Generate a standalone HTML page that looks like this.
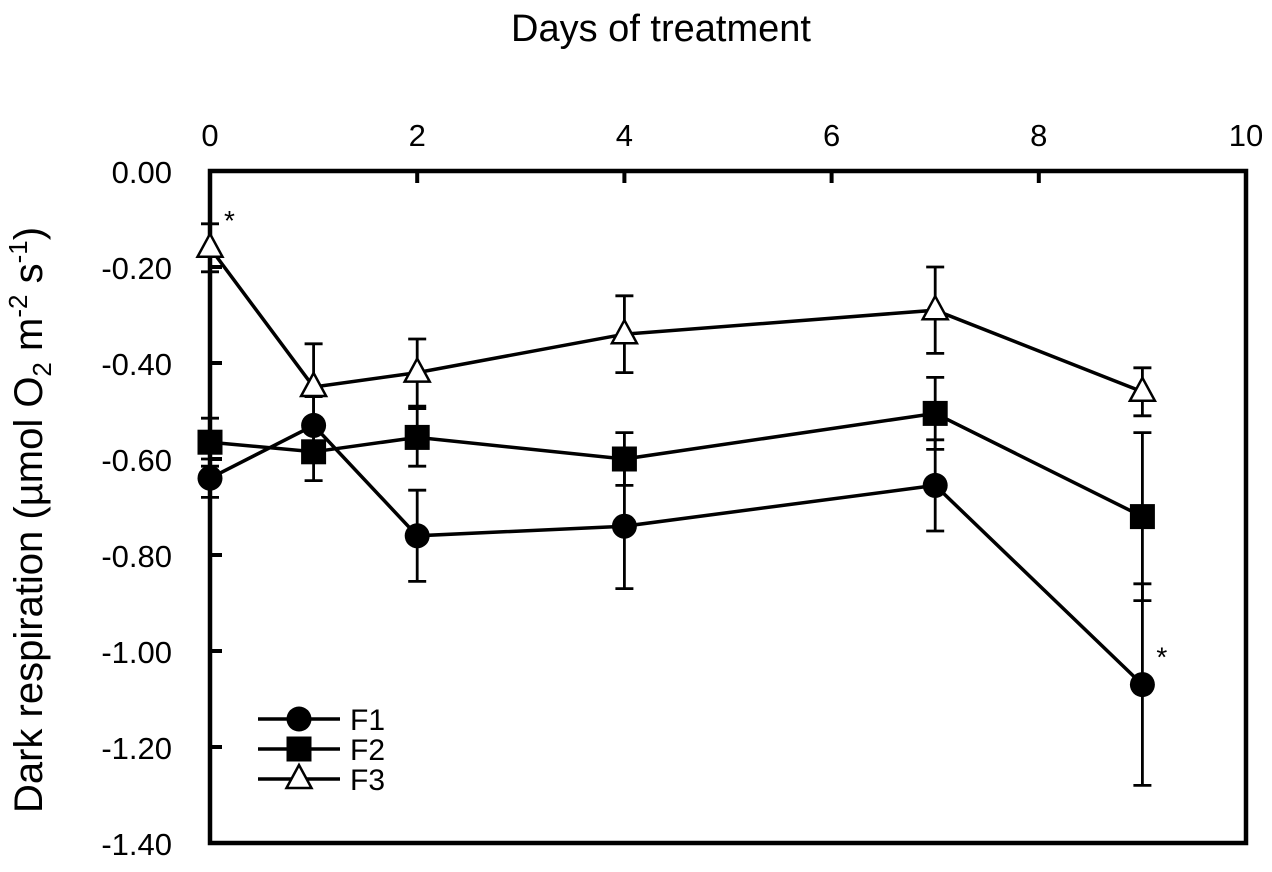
<!DOCTYPE html>
<html><head><meta charset="utf-8"><style>
body{margin:0;background:#fff}
svg{display:block;font-family:"Liberation Sans",Arial,sans-serif}
</style></head><body>
<svg id="chart" width="1272" height="872" viewBox="0 0 1272 872">
<text x="661" y="41" font-size="38" text-anchor="middle">Days of treatment</text>
<text transform="translate(42,520) rotate(-90)" font-size="40" text-anchor="middle">Dark respiration (µmol O<tspan font-size="26" dy="9">2</tspan><tspan dy="-9"> m</tspan><tspan font-size="26" dy="-15">-2</tspan><tspan dy="15"> s</tspan><tspan font-size="26" dy="-15">-1</tspan><tspan dy="15">)</tspan></text>
<g id="axes"></g><g id="series"></g><g id="legend"></g>
</svg>
<script>
const days=[0,1,2,4,7,9];
const f1=[-0.64,-0.53,-0.76,-0.74,-0.655,-1.07];
const f1err=[0.04,0.06,0.095,0.13,0.095,0.21];
const f2=[-0.565,-0.585,-0.555,-0.60,-0.505,-0.72];
const f2err=[0.05,0.06,0.06,0.055,0.075,0.175];
const f3=[-0.16,-0.45,-0.42,-0.34,-0.29,-0.46];
const f3err=[0.05,0.09,0.07,0.08,0.09,0.05];
const xTicks=[0,2,4,6,8,10];
const yTicks=[0,-0.2,-0.4,-0.6,-0.8,-1.0,-1.2,-1.4];
const L=210,R=1246,T=171,B=843;
const sx=d=>L+(d-0)/(10-0)*(R-L);
const sy=v=>T+(0-v)/(1.4)*(B-T);
const NS='http://www.w3.org/2000/svg';
function mk(tag,attrs,parent){const e=document.createElementNS(NS,tag);for(const k in attrs)e.setAttribute(k,attrs[k]);parent.appendChild(e);return e;}
const ax=document.getElementById('axes');
let fr=mk('rect',{x:L,y:T,width:R-L,height:B-T,fill:'none',stroke:'#000','stroke-width':4.5},ax);


xTicks.forEach(t=>{
  let l=mk('line',{x1:sx(t),x2:sx(t),y1:T,y2:T+12,stroke:'#000','stroke-width':4},ax);
  
  
  let tx=mk('text',{x:sx(t),y:T-25,'font-size':31,'text-anchor':'middle'},ax);
  tx.textContent=t;
  
  
});
yTicks.forEach(t=>{
  let l=mk('line',{x1:L,x2:L+12,y1:sy(t),y2:sy(t),stroke:'#000','stroke-width':4},ax);
  
  
  let tx=mk('text',{x:172,y:sy(t)+12,'font-size':31,'text-anchor':'end'},ax);
  tx.textContent=t.toFixed(2);
  
  
});
const sg=document.getElementById('series');
function marker(type,x,y,parent){
  let m;
  if(type==='circle')m=mk('circle',{cx:x,cy:y,r:12.5,fill:'#000'},parent);
  else if(type==='square')m=mk('rect',{x:x-12.5,y:y-12.5,width:25,height:25,fill:'#000'},parent);
  else m=mk('polygon',{points:`${x},${y-14} ${x-12.5},${y+9} ${x+12.5},${y+9}`,fill:'#fff',stroke:'#000','stroke-width':2.5},parent);
  return m;
}
const series=[['f1',f1,f1err,'circle'],['f2',f2,f2err,'square'],['f3',f3,f3err,'triangle']];
series.forEach(([n,vals,err,type])=>{
  const g=mk('g',{},sg);
  
  
  vals.forEach((v,i)=>{
    const x=sx(days[i]);
    let e=mk('path',{d:`M${x},${sy(v+err[i])}V${sy(v-err[i])}M${x-9},${sy(v+err[i])}H${x+9}M${x-9},${sy(v-err[i])}H${x+9}`,stroke:'#000','stroke-width':2.8,fill:'none'},g);
    
    
  });
  let p=mk('polyline',{points:vals.map((v,i)=>sx(days[i])+','+sy(v)).join(' '),fill:'none',stroke:'#000','stroke-width':3.5},g);
  
  
  vals.forEach((v,i)=>{
    let m=marker(type,sx(days[i]),sy(v),g);
    
    
  });
});
[[0,f3[0]],[9,f1[5]]].forEach(([d,v])=>{
  let s=mk('text',{x:sx(d)+14,y:sy(v)-18,'font-size':28},sg);
  s.textContent='*';
  
  
});
const lg=document.getElementById('legend');
[['F1','circle'],['F2','square'],['F3','triangle']].forEach(([n,type],i)=>{
  const y=719+i*30;
  const g=mk('g',{},lg);
  
  
  mk('line',{x1:258,x2:340,y1:y,y2:y,stroke:'#000','stroke-width':3.5},g);
  marker(type,299,y,g);
  let t=mk('text',{x:350,y:y+11,'font-size':30},g);
  t.textContent=n;
});
</script>
</body></html>
